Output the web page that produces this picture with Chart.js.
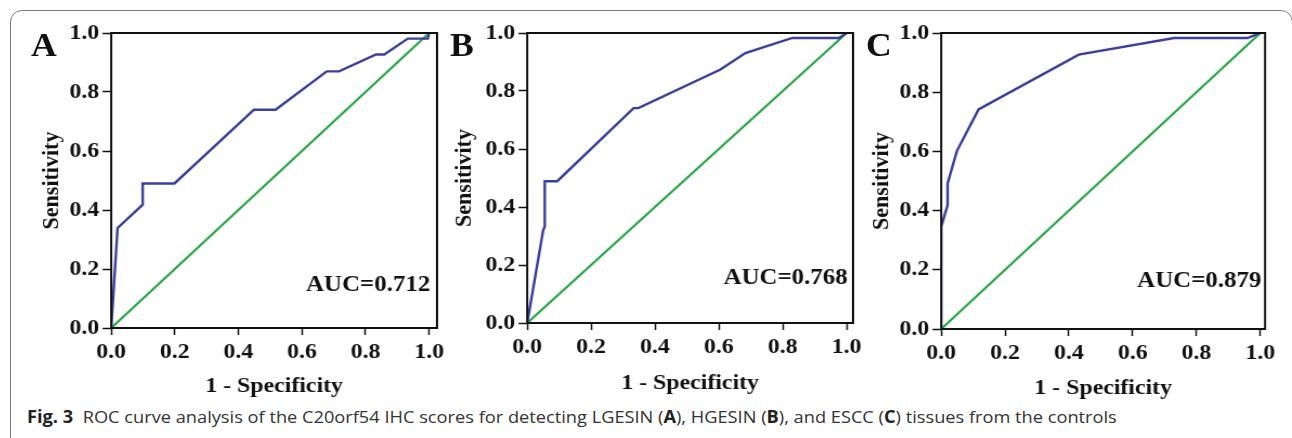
<!DOCTYPE html>
<html>
<head>
<meta charset="utf-8">
<script src="https://cdn.jsdelivr.net/npm/chart.js@4.4.1/dist/chart.umd.min.js"></script>
<style>
  body { margin: 0; background: #fff; width: 1292px; height: 438px; overflow: hidden; position: relative; }
  .frame { position: absolute; left: 10px; top: 10px; width: 1283px; height: 520px;
           border: 1px solid #7a7a7a; border-radius: 12px; box-sizing: border-box; }
  .panel { position: absolute; transform-origin: 0 0; }
  .letter { position: absolute; font: bold 33px 'Liberation Serif', 'Times New Roman', serif; color: #111;
            line-height: 1; transform: scaleX(1.08); transform-origin: 0 0; }
  .caption { position: absolute; left: 27px; top: 405px; font: 17px 'Open Sans', sans-serif; color: #333;
             white-space: nowrap; transform-origin: 0 0; }
  .caption b { color: #222; }
</style>
</head>
<body>
<div class="frame"></div>

<div class="panel" id="pA"><canvas id="cA"></canvas></div>
<div class="panel" id="pB"><canvas id="cB"></canvas></div>
<div class="panel" id="pC"><canvas id="cC"></canvas></div>

<div class="letter" style="left:31px; top:29px;">A</div>
<div class="letter" style="left:450px; top:29px;">B</div>
<div class="letter" style="left:866px; top:29px;">C</div>

<div class="caption" id="caption"><b>Fig. 3</b>&nbsp;&nbsp;ROC curve analysis of the C20orf54 IHC scores for detecting LGESIN (<b>A</b>), HGESIN (<b>B</b>), and ESCC (<b>C</b>) tissues from the controls</div>

<script>
// tick labels shared by all panels
var tickValues = [0, 0.2, 0.4, 0.6, 0.8, 1.0];

// A: LGESIN
var fprA = [0, 0.02, 0.099, 0.099, 0.199, 0.449, 0.517, 0.678, 0.717, 0.833, 0.859, 0.933, 0.996, 1];
var tprA = [0, 0.339, 0.418, 0.49, 0.49, 0.74, 0.74, 0.87, 0.87, 0.927, 0.927, 0.981, 0.981, 1];

// B: HGESIN
var fprB = [0, 0.05, 0.055, 0.055, 0.094, 0.333, 0.348, 0.605, 0.683, 0.83, 0.976, 1];
var tprB = [0, 0.32, 0.333, 0.489, 0.489, 0.741, 0.741, 0.874, 0.931, 0.983, 0.983, 1];

// C: ESCC
var fprC = [0, 0, 0.02, 0.02, 0.049, 0.117, 0.431, 0.73, 0.96, 1];
var tprC = [0, 0.346, 0.419, 0.492, 0.601, 0.742, 0.927, 0.983, 0.983, 1];

// reference line
var refX = [0, 1];
var refY = [0, 1];

var aucLabels = ['AUC=0.712', 'AUC=0.768', 'AUC=0.879'];

var serif = "'Liberation Serif', 'Times New Roman', serif";
var blue = '#3a3f9c';
var green = '#2aa748';
var S = 1.08; // the original figure is a little stretched sideways

function points(xs, ys) {
    return xs.map(function (x, i) { return { x: x, y: ys[i] }; });
}

// full box around the plot plus the AUC text
var boxPlugin = {
    id: 'box',
    afterDatasetsDraw: function (chart, args, opts) {
        var a = chart.chartArea, ctx = chart.ctx;
        ctx.save();
        ctx.strokeStyle = '#111';
        ctx.lineWidth = 2;
        ctx.strokeRect(a.left, a.top, a.right - a.left, a.bottom - a.top);
        ctx.fillStyle = '#111';
        ctx.font = 'bold 23px ' + serif;
        ctx.textAlign = 'right';
        ctx.textBaseline = 'middle';
        ctx.fillText(opts.text, chart.scales.x.getPixelForValue(1.0) + 1, chart.scales.y.getPixelForValue(opts.y));
        ctx.restore();
    }
};

// area = plot rectangle in page pixels, xMax = right end of x axis
function makePanel(id, area, xMax, fpr, tpr, auc, aucY, yTitlePad, xTitlePad) {
    var yW = 80, xH = 75, padT = 20, padR = 20;
    var left = area.left - yW, top = area.top - padT;
    var w = area.right + padR - left, h = area.bottom + xH - top;
    var holder = document.getElementById('p' + id);
    holder.style.left = left + 'px';
    holder.style.top = top + 'px';
    holder.style.width = (w / S) + 'px';
    holder.style.height = h + 'px';
    holder.style.transform = 'scaleX(' + S + ')';

    var tickFont = { family: serif, size: 22, weight: 'bold' };
    new Chart(document.getElementById('c' + id), {
        type: 'scatter',
        data: {
            datasets: [{
                data: points(fpr, tpr),
                showLine: true,
                borderColor: blue,
                borderWidth: 2.4,
                pointRadius: 0,
                tension: 0
            }, {
                data: points(refX, refY),
                showLine: true,
                borderColor: green,
                borderWidth: 2.2,
                pointRadius: 0
            }]
        },
        options: {
            responsive: true,
            maintainAspectRatio: false,
            animation: false,
            layout: { padding: { top: padT, right: padR / S, left: 0, bottom: 0 } },
            plugins: { legend: { display: false }, tooltip: { enabled: false }, box: { text: auc, y: aucY } },
            scales: {
                x: {
                    type: 'linear', min: 0, max: xMax,
                    afterBuildTicks: function (s) { s.ticks = tickValues.map(function (v) { return { value: v }; }); },
                    afterFit: function (s) { s.height = xH; },
                    grid: { drawOnChartArea: false, tickLength: 7, tickColor: '#111', tickWidth: 1.5 },
                    border: { display: false },
                    ticks: { color: '#111', font: tickFont, padding: 4, maxRotation: 0,
                             callback: function (v) { return v.toFixed(1); } },
                    title: { display: true, text: '1 - Specificity', color: '#111',
                             font: { family: serif, size: 22, weight: 'bold' }, padding: { top: 0, bottom: xTitlePad } }
                },
                y: {
                    type: 'linear', min: 0, max: 1,
                    afterBuildTicks: function (s) { s.ticks = tickValues.map(function (v) { return { value: v }; }); },
                    afterFit: function (s) { s.width = yW / S; },
                    grid: { drawOnChartArea: false, tickLength: 8, tickColor: '#111', tickWidth: 1.5 },
                    border: { display: false },
                    ticks: { color: '#111', font: tickFont, padding: 3,
                             callback: function (v) { return v.toFixed(1); } },
                    title: { display: true, text: 'Sensitivity', color: '#111',
                             font: { family: serif, size: 22, weight: 'bold' }, padding: { top: yTitlePad, bottom: 0 } }
                }
            }
        },
        plugins: [boxPlugin]
    });
}

makePanel('A', { left: 111, top: 33, right: 436, bottom: 328 }, 1.025, fprA, tprA, aucLabels[0], 0.147, 6, 3);
makePanel('B', { left: 527, top: 33, right: 852, bottom: 323 }, 1.02, fprB, tprB, aucLabels[1], 0.154, 3.5, 1.3);
makePanel('C', { left: 941, top: 33, right: 1264, bottom: 329 }, 1.015, fprC, tprC, aucLabels[2], 0.163, 6, 2.3);

// stretch the caption to the width it has in the figure
var cap = document.getElementById('caption');
cap.style.transform = 'scaleX(' + (1090 / cap.offsetWidth) + ')';
</script>
</body>
</html>
